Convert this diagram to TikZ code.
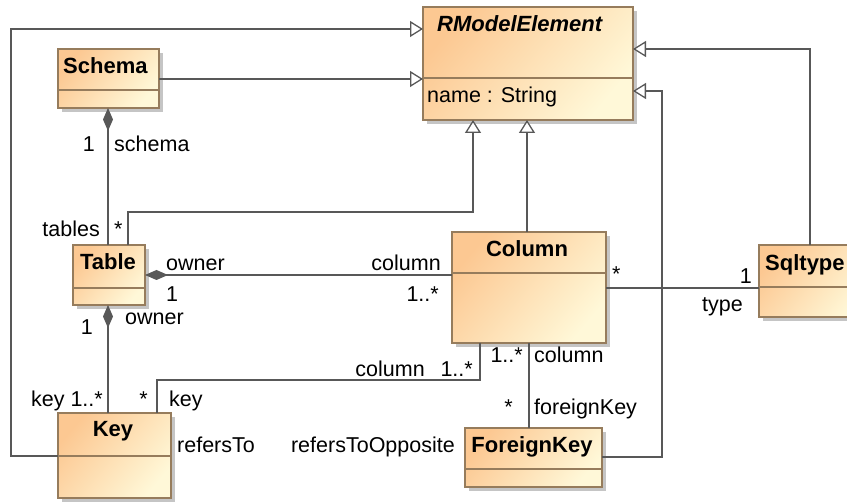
\documentclass[tikz,border=0pt]{standalone}
\usepackage{fontspec}
\setmainfont{Liberation Sans}
\usetikzlibrary{arrows.meta,shadows}

\definecolor{classtop}{RGB}{252,200,146}
\definecolor{classbot}{RGB}{255,248,216}
\definecolor{classline}{RGB}{150,124,92}
\definecolor{wire}{RGB}{88,88,88}

\tikzset{
  classbox/.style={draw=classline, line width=1.2pt,
    top color=classtop, bottom color=classbot, shading angle=50,
    inner sep=0pt, outer sep=0pt, anchor=north west,
    drop shadow={shadow xshift=4pt, shadow yshift=-4pt, fill=black!45, opacity=.5}},
  divider/.style={draw=classline, line width=1.2pt},
  title/.style={font=\fontsize{22}{26}\selectfont\bfseries, inner sep=0pt},
  lbl/.style={font=\fontsize{21.5}{26}\selectfont, inner sep=0pt},
  wirebase/.style={draw=wire, line width=1.3pt},
  gen/.style={wirebase, -{Triangle[length=13pt, width=16pt, fill=white]}},
  comp/.style={wirebase, {Diamond[length=23pt, width=10pt, fill=wire]}-},
  assoc/.style={wirebase},
}

\begin{document}
\begin{tikzpicture}[x=1pt, y=-1pt]
\useasboundingbox (0,0) rectangle (847,502);
\clip (0,0) rectangle (847,502);

% class boxes
\node[classbox, minimum width=210pt, minimum height=113pt] (RME) at (423,7) {};
\node[classbox, minimum width=101pt, minimum height=59pt] (Schema) at (58,49) {};
\node[classbox, minimum width=72pt, minimum height=60pt] (Table) at (73,245) {};
\node[classbox, minimum width=113pt, minimum height=85pt] (Key) at (58,413) {};
\node[classbox, minimum width=154pt, minimum height=111pt] (Column) at (452,232) {};
\node[classbox, minimum width=137pt, minimum height=59pt] (FK) at (465,428) {};
\node[classbox, minimum width=110pt, minimum height=72pt] (Sqltype) at (759,245) {};

% compartment separators
\draw[divider] (RME.west |- 0,78) -- (RME.east |- 0,78);
\draw[divider] (Schema.west |- 0,90) -- (Schema.east |- 0,90);
\draw[divider] (Table.west |- 0,288) -- (Table.east |- 0,288);
\draw[divider] (Key.west |- 0,456) -- (Key.east |- 0,456);
\draw[divider] (Column.west |- 0,273) -- (Column.east |- 0,273);
\draw[divider] (FK.west |- 0,469) -- (FK.east |- 0,469);
\draw[divider] (Sqltype.west |- 0,287) -- (Sqltype.east |- 0,287);

% class names and attributes
\node[title, anchor=base west] (tRME) at (437,32) {\itshape RModelElement};
\node[lbl, anchor=base west] (aRME) at (427,103) {name : String};
\node[title, anchor=base west] (tSchema) at (63,74) {Schema};
\node[title, anchor=base] (tTable) at (108,270) {Table};
\node[title, anchor=base] (tColumn) at (527,257) {Column};
\node[title, anchor=base] (tKey) at (113,437) {Key};
\node[title, anchor=base] (tFK) at (532,453) {ForeignKey};
\node[title, anchor=base west] (tSqltype) at (765,271) {Sqltype};

% generalizations
\draw[gen] (Key.west |- 0,456) -- (11,456) -- (11,29) -- (RME.west |- 0,29);
\draw[gen] (Schema.east |- 0,79) -- (RME.west |- 0,79);
\draw[gen] (Sqltype.north -| 810,0) -- (810,49) -- (RME.east |- 0,49);
\draw[gen] (FK.east |- 0,457) -- (662,457) -- (662,91) -- (RME.east |- 0,91);
\draw[gen] (Table.north -| 128,0) -- (128,212) -- (473,212) -- (RME.south -| 473,0);
\draw[gen] (Column.north -| 527,0) -- (RME.south -| 527,0);

% compositions
\draw[comp] (Schema.south -| 108,0) -- (Table.north -| 108,0);
\draw[comp] (Table.east |- 0,275) -- (Column.west |- 0,275);
\draw[comp] (Table.south -| 108,0) -- (Key.north -| 108,0);

% associations
\draw[assoc] (Key.north -| 157,0) -- (157,380) -- (480,380) -- (Column.south -| 480,0);
\draw[assoc] (Column.south -| 529,0) -- (FK.north -| 529,0);
\draw[assoc] (Column.east |- 0,288) -- (Sqltype.west |- 0,288);

% role names and multiplicities
\node[lbl, anchor=base east] (m1) at (95,152) {1};
\node[lbl, anchor=base west] (r1) at (114,152) {schema};
\node[lbl, anchor=base east] (r2) at (100,237) {tables};
\node[lbl, anchor=base west] (m2) at (114,237) {*};
\node[lbl, anchor=base west] (r3) at (166,271) {owner};
\node[lbl, anchor=base west] (m3) at (166,302) {1};
\node[lbl, anchor=base east] (r4) at (441,271) {column};
\node[lbl, anchor=base east] (m4) at (439,302) {1..*};
\node[lbl, anchor=base east] (m5) at (93,335) {1};
\node[lbl, anchor=base west] (r5) at (125,325) {owner};
\node[lbl, anchor=base east] (r6) at (103,407) {key 1..*};
\node[lbl, anchor=base east] (m7) at (148,407) {*};
\node[lbl, anchor=base west] (r7) at (169,407) {key};
\node[lbl, anchor=base east] (r8) at (425,377) {column};
\node[lbl, anchor=base east] (m8) at (473,377) {1..*};
\node[lbl, anchor=base east] (m9) at (523,363) {1..*};
\node[lbl, anchor=base west] (r9) at (534,363) {column};
\node[lbl, anchor=base east] (m10) at (513,415) {*};
\node[lbl, anchor=base west] (r10) at (534,415) {foreignKey};
\node[lbl, anchor=base west] (r11) at (177,453) {refersTo};
\node[lbl, anchor=base east] (r12) at (455,453) {refersToOpposite};
\node[lbl, anchor=base west] (m13) at (612,282) {*};
\node[lbl, anchor=base east] (m14) at (752,284) {1};
\node[lbl, anchor=base east] (r14) at (743,312) {type};
\end{tikzpicture}
\end{document}
